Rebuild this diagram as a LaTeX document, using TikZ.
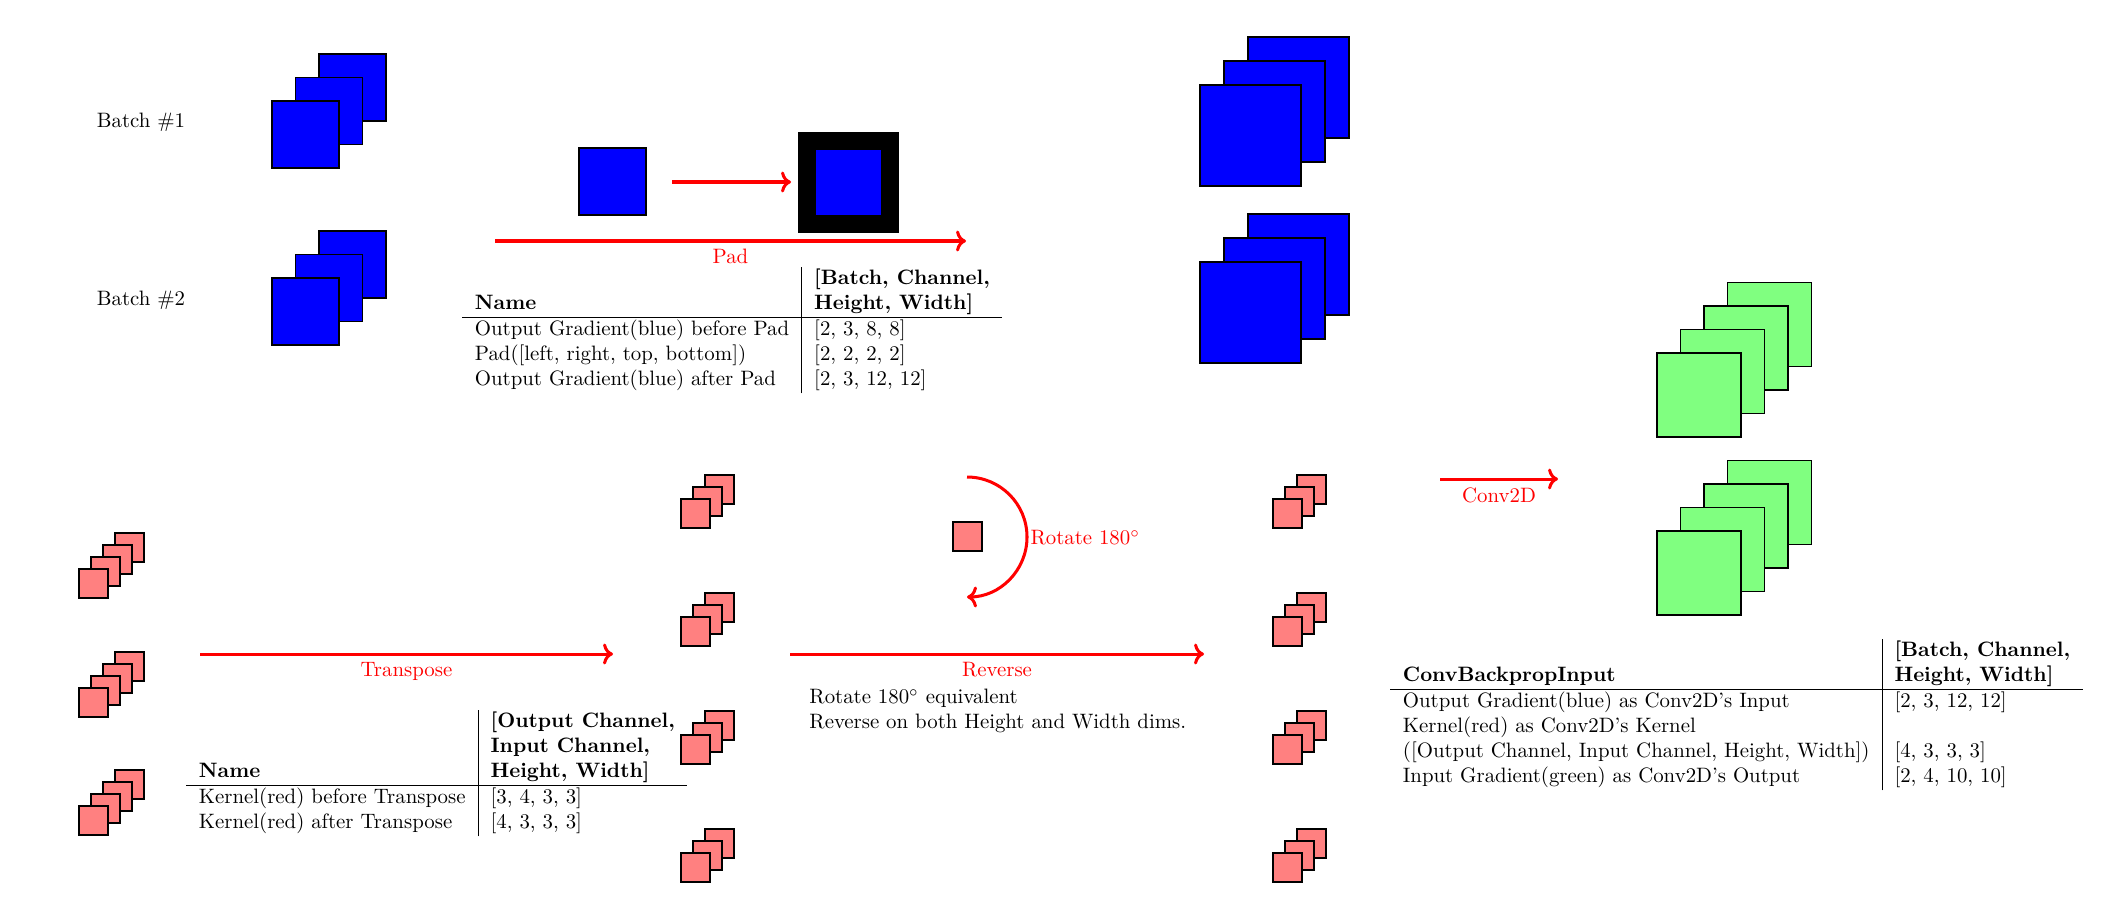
\documentclass[tikz,border=0pt]{standalone}
\usetikzlibrary{arrows.meta}
\newcommand{\mystack}[6]{%
  \foreach \i in {#3,...,0}{%
    \draw[sq,fill=#6] ({#1+#5*\i},{#2-#5*\i}) rectangle ++(#4,#4);
  }%
}
\begin{document}
\begin{tikzpicture}[x=0.48pt,y=-0.48pt,
  sq/.style={draw=black, thick},
  redarrow/.style={draw=red, line width=1.45pt, ->},
  redlabel/.style={text=red, font=\normalsize},
  plain/.style={inner sep=0pt}]
\useasboundingbox (0,0) rectangle (2124,919);

% --- batch labels
\node (batch1) at (141,122) {Batch \#1};
\node (batch2) at (141,300) {Batch \#2};

% --- blue stacks left
\mystack{272}{101}{2}{67}{23.5}{blue}
\mystack{272}{278}{2}{67}{23.5}{blue}

% --- pad illustration
\draw[sq,fill=blue] (579,148) rectangle ++(67,67);
\fill[black] (798,132) rectangle ++(101,101);
\draw[sq,fill=blue] (815,149) rectangle ++(67,67);
\coordinate (smallA) at (672,182);
\coordinate (smallB) at (791,182);
\draw[redarrow] (smallA) -- (smallB);

\coordinate (padA) at (495,241);
\coordinate (padB) at (966,241);
\draw[redarrow] (padA) -- node[below, redlabel] (padlbl) {Pad} (padB);

\node[anchor=north west, plain] (tab1) at (462,267) {%
\begin{tabular}{l|l}
\textbf{Name} & \textbf{\begin{tabular}[b]{@{}l@{}}[Batch, Channel,\\Height, Width]\end{tabular}}\\
\hline
Output Gradient(blue) before Pad & [2, 3, 8, 8]\\
Pad([left, right, top, bottom]) & [2, 2, 2, 2]\\
Output Gradient(blue) after Pad & [2, 3, 12, 12]
\end{tabular}};

% --- blue stacks right
\mystack{1200}{85}{2}{101}{24}{blue}
\mystack{1200}{262}{2}{101}{24}{blue}

% --- green stacks
\mystack{1657}{353}{3}{84}{23.5}{green!50}
\mystack{1657}{531}{3}{84}{23.5}{green!50}

\coordinate (convA) at (1440,479);
\coordinate (convB) at (1558,479);
\draw[redarrow] (convA) -- node[below, redlabel] (convlbl) {Conv2D} (convB);

% --- red stacks
\foreach \yy in {569,688,806}{\mystack{79}{\yy}{3}{29}{12}{red!50}}
\foreach \yy in {499,617,735,853}{\mystack{681}{\yy}{2}{29}{12}{red!50}}
\foreach \yy in {499,617,735,853}{\mystack{1273}{\yy}{2}{29}{12}{red!50}}

% --- transpose
\coordinate (trA) at (200,654);
\coordinate (trB) at (613,654);
\draw[redarrow] (trA) -- node[below, redlabel] (trlbl) {Transpose} (trB);

\node[anchor=north west, plain] (tab2) at (186,710) {%
\begin{tabular}{l|l}
\textbf{Name} & \textbf{\begin{tabular}[b]{@{}l@{}}[Output Channel,\\Input Channel,\\Height, Width]\end{tabular}}\\
\hline
Kernel(red) before Transpose & [3, 4, 3, 3]\\
Kernel(red) after Transpose & [4, 3, 3, 3]
\end{tabular}};

% --- rotate
\draw[sq,fill=red!50] (953,522) rectangle ++(29,29);
\coordinate (rotA) at (967,477);
\draw[redarrow] (rotA) arc[start angle=-90, end angle=90, radius=60];
\node[anchor=west, redlabel, inner sep=1pt] (rotlbl) at (1028,538) {Rotate 180$^\circ$};

% --- reverse
\coordinate (revA) at (790,654);
\coordinate (revB) at (1204,654);
\draw[redarrow] (revA) -- node[below, redlabel] (revlbl) {Reverse} (revB);
\node[anchor=north west, align=left, plain] (revtxt) at (809,689) {Rotate 180$^\circ$ equivalent\\Reverse on both Height and Width dims.};

% --- conv backprop table
\node[anchor=north west, plain] (tab3) at (1390,639) {%
\begin{tabular}{l|l}
\textbf{ConvBackpropInput} & \textbf{\begin{tabular}[b]{@{}l@{}}[Batch, Channel,\\Height, Width]\end{tabular}}\\
\hline
Output Gradient(blue) as Conv2D's Input & [2, 3, 12, 12]\\
Kernel(red) as Conv2D's Kernel & \\
([Output Channel, Input Channel, Height, Width]) & [4, 3, 3, 3]\\
Input Gradient(green) as Conv2D's Output & [2, 4, 10, 10]
\end{tabular}};
\end{tikzpicture}
\end{document}
